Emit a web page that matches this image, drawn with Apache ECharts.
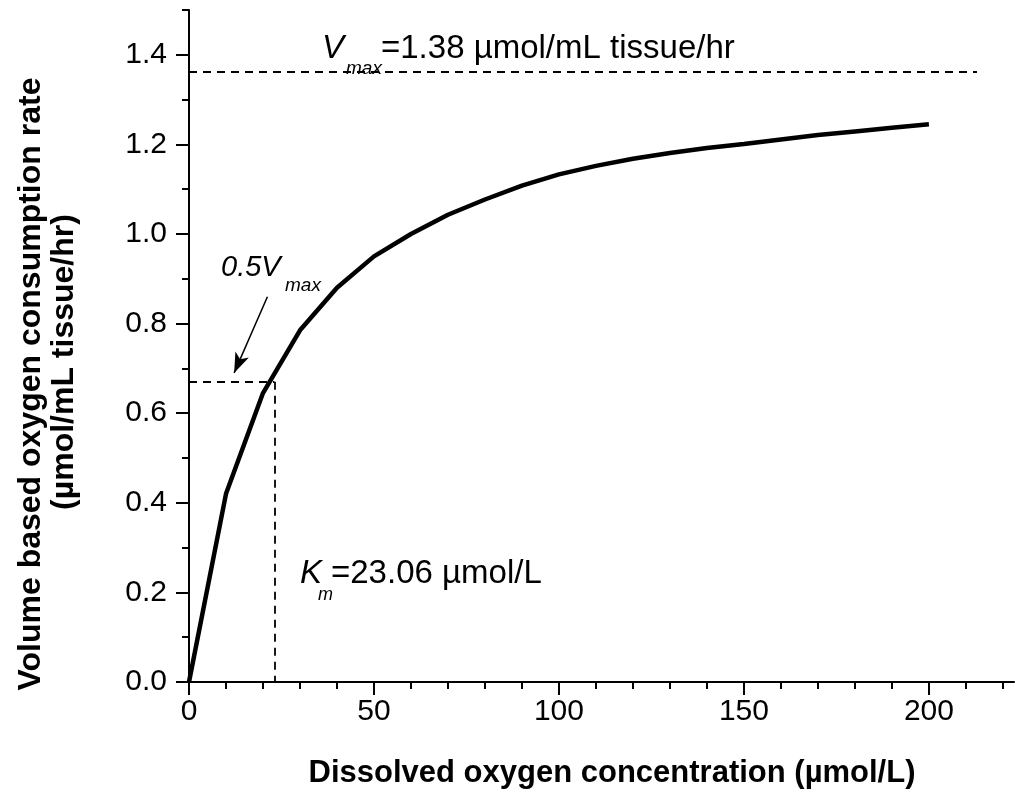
<!DOCTYPE html>
<html>
<head>
<meta charset="utf-8">
<script src="https://cdn.jsdelivr.net/npm/echarts@6/dist/echarts.min.js"></script>
<style>
  html, body { margin: 0; padding: 0; background: #fff; }
  #ChartDom { width: 1015px; height: 794px; }
</style>
</head>
<body>
<div id="ChartDom"></div>
<script>
// oxygen concentration (umol/L) and consumption rate
const xData = [0, 10, 20, 30, 40, 50, 60, 70, 80, 90, 100, 110, 120, 130, 140, 150, 160, 170, 180, 190, 200]
const yData = [0, 0.42, 0.645, 0.785, 0.88, 0.95, 1.0, 1.043, 1.077, 1.108, 1.133, 1.152, 1.168, 1.181, 1.192, 1.201, 1.211, 1.221, 1.229, 1.237, 1.245]

const xMajorTicks = [0, 50, 100, 150, 200]
const xMinorTicks = [10, 20, 30, 40, 60, 70, 80, 90, 110, 120, 130, 140, 160, 170, 180, 190, 210, 220]
const yMajorTicks = [0, 0.2, 0.4, 0.6, 0.8, 1.0, 1.2, 1.4]
const yMinorTicks = [0.1, 0.3, 0.5, 0.7, 0.9, 1.1, 1.3, 1.5]

// reference lines
const vmaxLine = 1.362
const vmaxLineEnd = 213
const halfVmax = 0.67
const km = 23.06
const arrowFrom = [21.2, 0.86]
const arrowTo = [12.2, 0.69]

const FONT = "'Liberation Sans', Arial, sans-serif"

function initChart() {
  const chartDom = document.getElementById("ChartDom")
  const myChart = echarts.init(chartDom)

  const axisBase = {
    type: "value",
    axisLine: { onZero: false, lineStyle: { color: "#000", width: 2 } },
    splitLine: { show: false },
  }

  let option = {
    animation: false,
    backgroundColor: "#fff",
    grid: { left: 189, top: 10, width: 825, bottom: 112 },
    xAxis: [
      {
        ...axisBase,
        position: "bottom",
        min: 0,
        max: 223,
        axisTick: { customValues: xMajorTicks, length: 13, lineStyle: { color: "#000", width: 2 } },
        axisLabel: {
          customValues: xMajorTicks,
          color: "#000",
          fontSize: 30,
          fontFamily: FONT,
          margin: 15,
        },
      },
      {
        ...axisBase,
        position: "bottom",
        min: 0,
        max: 223,
        axisLine: { show: false, onZero: false },
        axisTick: { customValues: xMinorTicks, length: 7, lineStyle: { color: "#000", width: 2 } },
        axisLabel: { show: false },
      },
    ],
    yAxis: [
      {
        ...axisBase,
        position: "left",
        min: 0,
        max: 1.5,
        axisTick: { customValues: yMajorTicks, length: 13, lineStyle: { color: "#000", width: 2 } },
        axisLabel: {
          customValues: yMajorTicks,
          color: "#000",
          fontSize: 30,
          fontFamily: FONT,
          margin: 22,
          formatter: (v) => v.toFixed(1),
        },
      },
      {
        ...axisBase,
        position: "left",
        min: 0,
        max: 1.5,
        axisLine: { show: false, onZero: false },
        axisTick: { customValues: yMinorTicks, length: 7, lineStyle: { color: "#000", width: 2 } },
        axisLabel: { show: false },
      },
    ],
    series: [
      {
        type: "line",
        xAxisIndex: 0,
        yAxisIndex: 0,
        data: xData.map((x, i) => [x, yData[i]]),
        symbol: "none",
        clip: false,
        lineStyle: { color: "#000", width: 4.5 },
        markLine: {
          silent: true,
          symbol: "none",
          label: { show: false },
          lineStyle: { color: "#000", width: 1.8, type: [8, 6] },
          data: [
            [{ coord: [0, vmaxLine] }, { coord: [vmaxLineEnd, vmaxLine] }],
            [{ coord: [0, halfVmax] }, { coord: [km, halfVmax] }],
            [{ coord: [km, halfVmax] }, { coord: [km, 0] }],
          ],
        },
      },
      {
        type: "line",
        data: [],
        markLine: {
          silent: true,
          symbol: ["none", "arrow"],
          symbolSize: [11, 20],
          label: { show: false },
          lineStyle: { color: "#000", width: 1.5, type: "solid" },
          data: [[{ coord: arrowFrom }, { coord: arrowTo }]],
        },
      },
    ],
    graphic: [
      // y axis title
      {
        type: "text",
        x: 31,
        y: 384,
        rotation: Math.PI / 2,
        style: {
          text: "Volume based oxygen consumption rate",
          font: "bold 32px " + FONT,
          fill: "#000",
          textAlign: "center",
          textVerticalAlign: "middle",
        },
      },
      {
        type: "text",
        x: 64,
        y: 362,
        rotation: Math.PI / 2,
        style: {
          text: "(\u00b5mol/mL tissue/hr)",
          font: "bold 32px " + FONT,
          fill: "#000",
          textAlign: "center",
          textVerticalAlign: "middle",
        },
      },
      // x axis title
      {
        type: "text",
        x: 612,
        y: 773,
        style: {
          text: "Dissolved oxygen concentration (\u00b5mol/L)",
          font: "bold 31px " + FONT,
          fill: "#000",
          textAlign: "center",
          textVerticalAlign: "middle",
        },
      },
      // Vmax label
      {
        type: "text", x: 322, y: 49,
        style: { text: "V", font: "italic 33px " + FONT, fill: "#000", textVerticalAlign: "middle" },
      },
      {
        type: "text", x: 346, y: 69,
        style: { text: "max", font: "italic 19px " + FONT, fill: "#000", textVerticalAlign: "middle" },
      },
      {
        type: "text", x: 381, y: 49,
        style: { text: "=1.38 \u00b5mol/mL tissue/hr", font: "33px " + FONT, fill: "#000", textVerticalAlign: "middle" },
      },
      // 0.5Vmax label
      {
        type: "text", x: 221, y: 268,
        style: { text: "0.5V", font: "italic 29px " + FONT, fill: "#000", textVerticalAlign: "middle" },
      },
      {
        type: "text", x: 285, y: 286,
        style: { text: "max", font: "italic 19px " + FONT, fill: "#000", textVerticalAlign: "middle" },
      },
      // Km label
      {
        type: "text", x: 300, y: 574,
        style: { text: "K", font: "italic 33px " + FONT, fill: "#000", textVerticalAlign: "middle" },
      },
      {
        type: "text", x: 318, y: 595,
        style: { text: "m", font: "italic 18px " + FONT, fill: "#000", textVerticalAlign: "middle" },
      },
      {
        type: "text", x: 331, y: 574,
        style: { text: "=23.06 \u00b5mol/L", font: "33px " + FONT, fill: "#000", textVerticalAlign: "middle" },
      },
    ],
  }

  myChart.setOption(option)
  window.addEventListener("resize", () => myChart.resize(), { passive: true })
}

initChart()
</script>
</body>
</html>
